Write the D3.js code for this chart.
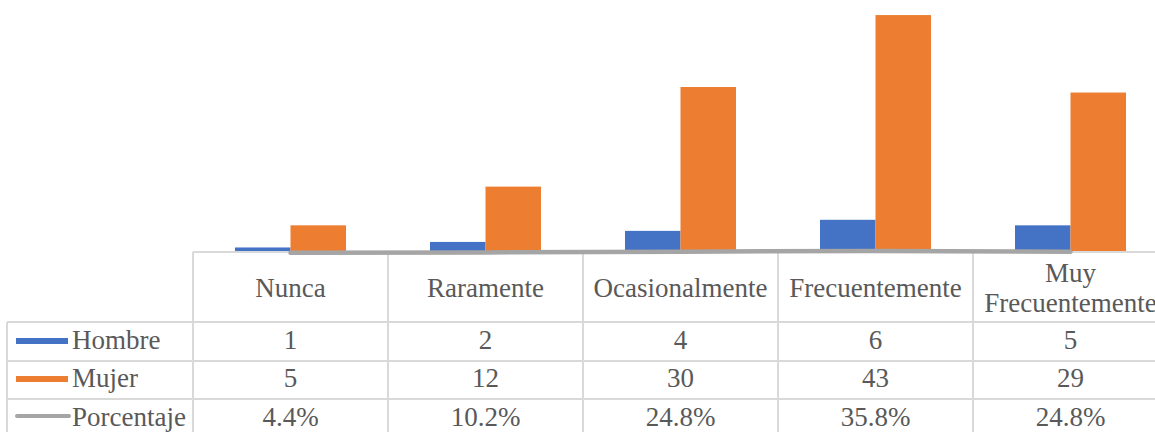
<!DOCTYPE html>
<html><head><meta charset="utf-8">
<script src="https://cdn.jsdelivr.net/npm/d3@7"></script>
<style>body{margin:0;background:#fff}svg{display:block}
text{font-family:'Liberation Serif','Times New Roman',serif;font-size:27px;fill:#595959}</style>
</head><body>
<svg id="c" width="1155" height="432"></svg>
<script>
const categories = ["Nunca", "Raramente", "Ocasionalmente", "Frecuentemente", "Muy Frecuentemente"];
const categoryLines = [["Nunca"], ["Raramente"], ["Ocasionalmente"], ["Frecuentemente"], ["Muy", "Frecuentemente"]];
const seriesNames = ["Hombre", "Mujer", "Porcentaje"];
const hombre = [1, 2, 4, 6, 5];
const mujer = [5, 12, 30, 43, 29];
const porcentaje = [0.044, 0.102, 0.248, 0.358, 0.248];
const porcentajeLabels = ["4.4%", "10.2%", "24.8%", "35.8%", "24.8%"];
const colors = {Hombre: "#4472c4", Mujer: "#ed7d31", Porcentaje: "#a5a5a5"};

const svg = d3.select("#c");
const plotLeft = 193, plotRight = 1168, plotBase = 253, plotTop = 4;
const gridColor = "#d9d9d9";

const x = d3.scaleBand().domain(categories).range([plotLeft, plotRight]);
const inner = d3.scaleBand().domain(["Hombre", "Mujer"]).range([0, x.bandwidth()]).paddingOuter(0.757).paddingInner(0);
const y = d3.scaleLinear().domain([0, 45]).range([plotBase, plotTop]);

// bars
const barData = [];
categories.forEach((c, i) => {
  barData.push({c, s: "Hombre", v: hombre[i]});
  barData.push({c, s: "Mujer", v: mujer[i]});
});
svg.append("g").selectAll("rect").data(barData).join("rect")
  .attr("x", d => x(d.c) + inner(d.s))
  .attr("width", inner.bandwidth())
  .attr("y", d => y(d.v))
  .attr("height", d => y(0) - y(d.v))
  .attr("fill", d => colors[d.s]);

// table grid
const rowY = [252, 322, 361, 399, 438];
const g = svg.append("g").attr("stroke", gridColor).attr("stroke-width", 2);
g.append("line").attr("x1", plotLeft).attr("x2", plotRight).attr("y1", rowY[0]).attr("y2", rowY[0]);
rowY.slice(1).forEach(ry => g.append("line").attr("x1", 7).attr("x2", plotRight).attr("y1", ry).attr("y2", ry));
categories.forEach(c => g.append("line").attr("x1", x(c)).attr("x2", x(c)).attr("y1", rowY[0]).attr("y2", 440));
g.append("line").attr("x1", plotRight).attr("x2", plotRight).attr("y1", rowY[0]).attr("y2", 440);
g.append("line").attr("x1", 7).attr("x2", 7).attr("y1", rowY[1]).attr("y2", 440);

// line series
const line = d3.line().x((d, i) => x(categories[i]) + x.bandwidth() / 2).y(d => y(d));
svg.append("path").datum(porcentaje).attr("d", line)
  .attr("fill", "none").attr("stroke", colors.Porcentaje).attr("stroke-width", 4.5)
  .attr("stroke-linecap", "round").attr("stroke-linejoin", "round");

// header labels
const t = svg.append("g").attr("text-anchor", "middle");
categoryLines.forEach((lines, i) => {
  const cx = x(categories[i]) + x.bandwidth() / 2;
  if (lines.length === 1) {
    t.append("text").attr("x", cx).attr("y", 297).text(lines[0]);
  } else {
    t.append("text").attr("x", cx).attr("y", 282).text(lines[0]);
    t.append("text").attr("x", cx).attr("y", 312).text(lines[1]);
  }
});

// value rows
const rows = [
  {name: "Hombre", vals: hombre.map(String), base: 349},
  {name: "Mujer", vals: mujer.map(String), base: 387},
  {name: "Porcentaje", vals: porcentajeLabels, base: 426}
];
rows.forEach(r => {
  r.vals.forEach((v, i) => {
    t.append("text").attr("x", x(categories[i]) + x.bandwidth() / 2).attr("y", r.base).text(v);
  });
  svg.append("text").attr("x", 72).attr("y", r.base).text(r.name);
  if (r.name === "Porcentaje") {
    svg.append("line").attr("x1", 17).attr("x2", 69).attr("y1", r.base - 10).attr("y2", r.base - 10)
      .attr("stroke", colors.Porcentaje).attr("stroke-width", 4).attr("stroke-linecap", "round");
  } else {
    svg.append("rect").attr("x", 16).attr("y", r.base - 11).attr("width", 52).attr("height", 6)
      .attr("fill", colors[r.name]);
  }
});
</script>
</body></html>
